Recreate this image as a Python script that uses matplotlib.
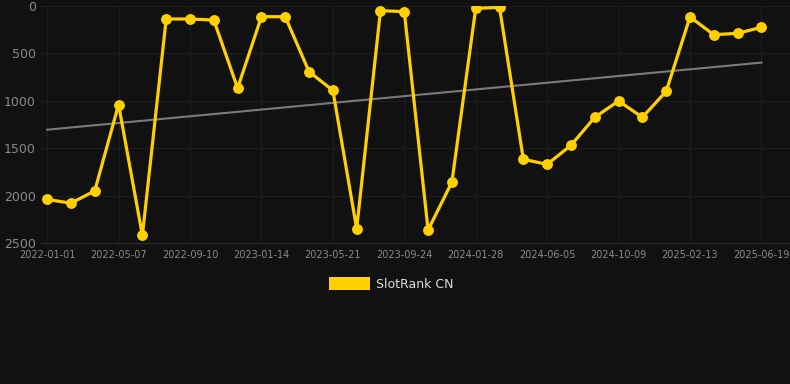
import numpy as np
import matplotlib
matplotlib.use('Agg')
import matplotlib.pyplot as plt
from matplotlib.patches import Patch

# rank values per sample (lower rank = better, axis inverted)
ranks = [2040, 2080, 1950, 1040, 2420, 137, 137, 148, 867, 113,
         113, 693, 890, 2349, 49, 60, 2363, 1857, 25, 14,
         1617, 1670, 1470, 1174, 1002, 1174, 900, 116, 303, 288,
         225]
tick_labels = ['2022-01-01', '2022-05-07', '2022-09-10', '2023-01-14',
               '2023-05-21', '2023-09-24', '2024-01-28', '2024-06-05',
               '2024-10-09', '2025-02-13', '2025-06-19']
trend_ends = [1305, 597]
series_name = 'SlotRank CN'

bg = '#111111'
gold = '#FFD000'

x = np.arange(len(ranks))

fig = plt.figure(figsize=(7.9, 3.84), dpi=100, facecolor=bg)
ax = fig.add_axes([40/790, 1-243/384, 750/790, 237/384])
ax.set_facecolor(bg)

ax.plot([x[0], x[-1]], trend_ends, color='#7a7a7a', lw=1.5, zorder=2)
ax.plot(x, ranks, color=gold, lw=2.3, marker='o', markersize=6.8,
        solid_joinstyle='round', zorder=3)

ax.set_xlim(-0.3, 31.2)
ax.set_ylim(2500, 0)
ax.set_yticks([0, 500, 1000, 1500, 2000, 2500])
ax.set_xticks(x[::3])
ax.set_xticklabels(tick_labels)

ax.grid(True, color='#1e1e1e', lw=0.8)
for s in ['top', 'right', 'left']:
    ax.spines[s].set_visible(False)
ax.spines['bottom'].set_color('#2a2a2a')
ax.tick_params(axis='y', length=0, labelsize=9, colors='#8a8a8a', pad=3)
ax.tick_params(axis='x', length=0, labelsize=7, colors='#8a8a8a', pad=5)

fig.legend(handles=[Patch(facecolor=gold, label=series_name)],
           loc='center', bbox_to_anchor=(391/790, 1-284/384),
           frameon=False, handlelength=3.3, handleheight=1.2,
           handletextpad=0.5, labelcolor='#dddddd', fontsize=9)

fig.savefig('out.png', dpi=100, facecolor=bg)
